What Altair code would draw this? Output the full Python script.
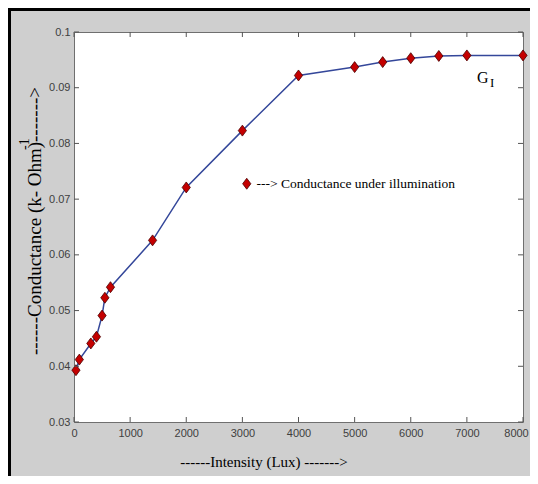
import altair as alt
import pandas as pd

# ---- data ----
intensity = [35, 95, 300, 400, 500, 550, 650, 1400, 2000, 3000, 4000,
             5000, 5500, 6000, 6500, 7000, 8000]
conductance = [0.0393, 0.0412, 0.0441, 0.0453, 0.0491, 0.0523, 0.0542,
               0.0626, 0.0721, 0.0823, 0.0922, 0.0937, 0.0946, 0.0953,
               0.0957, 0.0958, 0.0958]
x_ticks = [0, 1000, 2000, 3000, 4000, 5000, 6000, 7000, 8000]
y_ticks = [0.03, 0.04, 0.05, 0.06, 0.07, 0.08, 0.09, 0.1]
series_label = "---> Conductance under illumination"
x_title = "------Intensity (Lux) ------->"
y_title_main = "------Conductance (k- Ohm)"
y_title_sup = "-1"
y_title_arrow = "------->"

W, H = 449, 390
PAD = {"left": 66, "top": 24, "right": 7, "bottom": 54}

df = pd.DataFrame({"lux": intensity, "g": conductance, "series": series_label})
xt = pd.DataFrame({"t": x_ticks})
yt = pd.DataFrame({"t": y_ticks})
one = pd.DataFrame({"a": [0]})

xs = alt.Scale(domain=[0, 8000], nice=False, zero=False)
ys = alt.Scale(domain=[0.03, 0.1], nice=False, zero=False)

tick_font = "Liberation Sans Narrow, Arial Narrow, Liberation Sans, Arial"
serif = "Liberation Serif, Times New Roman, serif"

x_axis = alt.Axis(values=x_ticks, format="d", ticks=False, domain=False, grid=False,
                  labelFont=tick_font, labelFontSize=11, labelColor="#404040",
                  labelPadding=5, labelFlush=False, labelOverlap=False, title=None,
                  labelOffset={"condition": {"test": "datum.value >= 8000", "value": -7},
                               "value": 0})
y_axis = alt.Axis(values=y_ticks, format=".2~f", ticks=False, domain=False, grid=False,
                  labelFont=tick_font, labelFontSize=11, labelColor="#404040",
                  labelPadding=4, labelFlush=False, labelOverlap=False, title=None)

X = lambda f: alt.X(f, scale=xs, axis=x_axis)
Y = lambda f: alt.Y(f, scale=ys, axis=y_axis)

line = alt.Chart(df).mark_line(color="#34479a", strokeWidth=1.5).encode(
    x=X("lux:Q"), y=Y("g:Q"))

diamond = "M0,-1L0.75,0L0,1L-0.75,0Z"
points = alt.Chart(df).mark_point(shape=diamond, size=120, filled=True, opacity=1,
                                  stroke="#4a0000", strokeWidth=0.8).encode(
    x=X("lux:Q"),
    y=Y("g:Q"),
    color=alt.Color("series:N", scale=alt.Scale(range=["#c40000"]),
                    legend=alt.Legend(title=None, orient="none", legendX=166, legendY=145,
                                      symbolType=diamond, symbolSize=120,
                                      symbolStrokeColor="#4a0000", symbolStrokeWidth=0.8,
                                      labelFont=serif, labelFontSize=13.5, labelColor="black",
                                      labelOffset=3, labelLimit=400)),
)

tick_color = "#555555"
xb = alt.Chart(xt).mark_rule(color=tick_color).encode(
    x=X("t:Q"), y=alt.value(H), y2=alt.value(H - 5))
xtp = alt.Chart(xt).mark_rule(color=tick_color).encode(
    x=X("t:Q"), y=alt.value(0), y2=alt.value(5))
yl = alt.Chart(yt).mark_rule(color=tick_color).encode(
    y=Y("t:Q"), x=alt.value(0), x2=alt.value(5))
yr = alt.Chart(yt).mark_rule(color=tick_color).encode(
    y=Y("t:Q"), x=alt.value(W), x2=alt.value(W - 5))

border_top = alt.Chart(one).mark_rule(color="black", strokeWidth=3).encode(
    x=alt.value(-PAD["left"]), x2=alt.value(W + PAD["right"]), y=alt.value(-PAD["top"] + 1.5))
border_left = alt.Chart(one).mark_rule(color="black", strokeWidth=3).encode(
    x=alt.value(-PAD["left"] + 1.5), y=alt.value(-PAD["top"]), y2=alt.value(H + PAD["bottom"]))

def txt(s, x, y, size, angle=0, align="left", baseline="middle"):
    kw = dict(text=s, font=serif, fontSize=size, color="black", align=align, baseline=baseline)
    if angle:
        kw["angle"] = angle
    return alt.Chart(one).mark_text(**kw).encode(x=alt.value(x), y=alt.value(y))

texts = [
    txt(x_title, 190, 430, 15, align="center"),
    txt(y_title_main, -39, 323, 19, angle=270),
    txt(y_title_sup, -49, 118, 14, angle=270),
    txt(y_title_arrow, -39, 110, 19, angle=270),
    txt("G", 403, 51, 16, baseline="alphabetic"),
    txt("I", 416, 55, 13, baseline="alphabetic"),
]

chart = alt.layer(line, points, xb, xtp, yl, yr, border_top, border_left, *texts).properties(
    width=W, height=H,
    autosize=alt.AutoSizeParams(type="none"),
    padding=PAD,
).configure(background="#cfcfcf").configure_view(fill="white", stroke="#6f6f6f", strokeWidth=1)

chart.save("out.html", embed_options={"renderer": "svg", "actions": False})
